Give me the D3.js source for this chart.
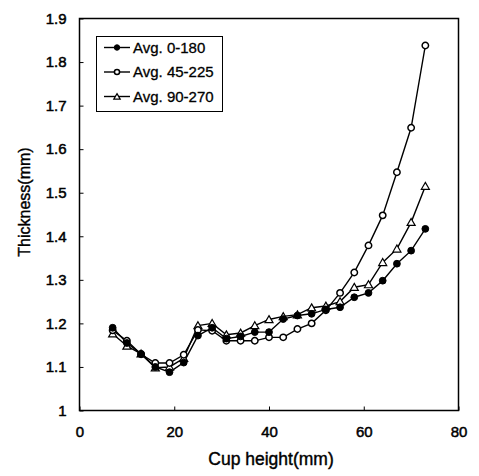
<!DOCTYPE html>
<html>
<head>
<meta charset="utf-8">
<script src="https://cdn.jsdelivr.net/npm/d3@7"></script>
<style>
  html, body { margin: 0; padding: 0; background: #fff; }
  svg { display: block; font-family: "Liberation Sans", Arial, sans-serif; }
</style>
</head>
<body>
<div id="chart"></div>
<script>
// cup height (mm) at each measured point
const cupHeight = [7, 10, 13, 16, 19, 22, 25, 28, 31, 34, 37, 40, 43, 46, 49, 52, 55, 58, 61, 64, 67, 70, 73];

// thickness (mm), averaged over the three direction pairs
const avg0_180 = [1.19, 1.155, 1.13, 1.10, 1.088, 1.11, 1.172, 1.19, 1.165, 1.17, 1.18, 1.18,
  1.21, 1.218, 1.222, 1.232, 1.237, 1.26, 1.27, 1.298, 1.337, 1.367, 1.417];
const avg45_225 = [1.184, 1.16, 1.129, 1.109, 1.109, 1.128, 1.185, 1.183, 1.16, 1.16, 1.16, 1.168,
  1.168, 1.187, 1.20, 1.23, 1.27, 1.317, 1.379, 1.448, 1.547, 1.649, 1.838];
const avg90_270 = [1.176, 1.148, 1.13, 1.098, 1.10, 1.12, 1.195, 1.20, 1.174, 1.178, 1.195, 1.209,
  1.216, 1.22, 1.236, 1.24, 1.25, 1.283, 1.289, 1.34, 1.371, 1.432, 1.515];

const seriesNames = ["Avg. 0-180", "Avg. 45-225", "Avg. 90-270"];
const xTicks = [0, 20, 40, 60, 80];
const yTicks = [1, 1.1, 1.2, 1.3, 1.4, 1.5, 1.6, 1.7, 1.8, 1.9];

const width = 479;
const height = 476;
const margin = { top: 18.5, right: 20.5, bottom: 65.5, left: 79.5 };

const x = d3.scaleLinear().domain([0, 80]).range([margin.left, width - margin.right]);
const y = d3.scaleLinear().domain([1, 1.9]).range([height - margin.bottom, margin.top]);

const svg = d3.select("#chart").append("svg")
    .attr("width", width)
    .attr("height", height);

// marker drawing per series, s = scale
const markers = [
  (g, s) => g.append("circle").attr("r", 3.4 * s).attr("fill", "#000").attr("stroke", "#000"),
  (g, s) => g.append("circle").attr("r", 3.2 * s).attr("fill", "#fff").attr("stroke", "#000").attr("stroke-width", 1.5),
  (g, s) => g.append("path").attr("d", d3.symbol(d3.symbolTriangle, 28 * s * s)()).attr("transform", "translate(0,0.8)")
          .attr("fill", "#fff").attr("stroke", "#000").attr("stroke-width", 1.2)
];

const series = [avg0_180, avg45_225, avg90_270];

// axes, ticks pointing inward
const xAxis = d3.axisBottom(x).tickValues(xTicks).tickSizeInner(-4).tickSizeOuter(0).tickPadding(16);
const yAxis = d3.axisLeft(y).tickValues(yTicks).tickSizeInner(-4).tickSizeOuter(0).tickPadding(13)
    .tickFormat(d3.format("~g"));

const gx = svg.append("g").attr("transform", `translate(0,${height - margin.bottom})`).call(xAxis);
const gy = svg.append("g").attr("transform", `translate(${margin.left},0)`).call(yAxis);
[gx, gy].forEach(g => {
  g.select(".domain").remove();
  g.selectAll("text").attr("font-size", 15).attr("fill", "#000")
      .attr("stroke", "#000").attr("stroke-width", 0.5)
      .attr("font-family", "Liberation Sans, Arial, sans-serif");
  g.selectAll("line").attr("stroke", "#000");
});

// plot frame
svg.append("rect")
    .attr("x", x(0)).attr("y", y(1.9))
    .attr("width", x(80) - x(0)).attr("height", y(1) - y(1.9))
    .attr("fill", "none").attr("stroke", "#000").attr("stroke-width", 1.5);

// lines and markers
const line = d3.line().x((d, i) => x(cupHeight[i])).y(d => y(d));
[2, 1, 0].forEach(k => {
  svg.append("path")
      .datum(series[k])
      .attr("d", line)
      .attr("fill", "none")
      .attr("stroke", "#000")
      .attr("stroke-width", 1.4);
});
[2, 1, 0].forEach(k => {
  svg.append("g").selectAll("g")
      .data(series[k])
      .join("g")
      .attr("transform", (d, i) => `translate(${x(cupHeight[i])},${y(d)})`)
      .each(function () { markers[k](d3.select(this), 1); });
});

// axis titles
svg.append("text")
    .attr("x", (x(0) + x(80)) / 2 + 2).attr("y", 465)
    .attr("text-anchor", "middle")
    .attr("font-size", 17.5).attr("stroke", "#000").attr("stroke-width", 0.4)
    .text("Cup height(mm)");

svg.append("text")
    .attr("transform", "translate(30,202) rotate(-90)")
    .attr("text-anchor", "middle")
    .attr("font-size", 16).attr("stroke", "#000").attr("stroke-width", 0.4)
    .text("Thickness(mm)");

// legend
const legend = svg.append("g");
legend.append("rect")
    .attr("x", 96.5).attr("y", 36.5).attr("width", 126).attr("height", 75)
    .attr("fill", "#fff").attr("stroke", "#000").attr("stroke-width", 1);

seriesNames.forEach((name, k) => {
  const ly = 47.5 + k * 24.5;
  legend.append("line")
      .attr("x1", 104).attr("x2", 130).attr("y1", ly).attr("y2", ly)
      .attr("stroke", "#000").attr("stroke-width", 1.4);
  const m = legend.append("g").attr("transform", `translate(117,${ly})`);
  markers[k](m, 0.8);
  legend.append("text")
      .attr("x", 133).attr("y", ly).attr("dy", "0.35em")
      .attr("font-size", 15).attr("stroke", "#000").attr("stroke-width", 0.3)
      .text(name);
});
</script>
</body>
</html>
